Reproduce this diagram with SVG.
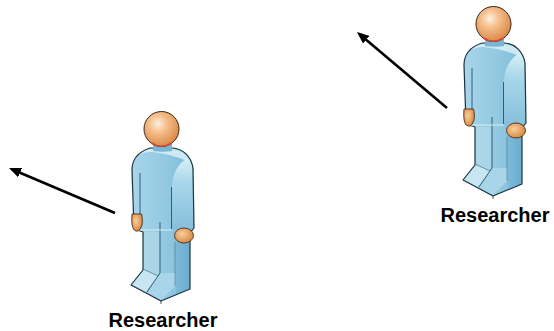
<svg xmlns="http://www.w3.org/2000/svg" xmlns:xlink="http://www.w3.org/1999/xlink" width="554" height="331" viewBox="0 0 554 331">
<style>
.ln{stroke:#000;stroke-width:2.6;fill:none}
.lbl{font-family:"Liberation Sans",Arial,sans-serif;font-weight:700;font-size:20px;fill:#000;text-anchor:middle}
.out{stroke:#1d3340;stroke-width:1.2;stroke-linejoin:round}
.inner{stroke:#2f5f7c;stroke-width:1;fill:none}
.skin{stroke:#4a3018;stroke-width:0.9}
</style>
<defs>
<marker id="ah" viewBox="0 0 12 10" refX="9" refY="5" markerWidth="12" markerHeight="10" markerUnits="userSpaceOnUse" orient="auto">
<path d="M0,0 L12,5 L0,10 Z" fill="#000"/>
</marker>
<linearGradient id="front" x1="0" y1="0" x2="1" y2="0">
<stop offset="0" stop-color="#a9d6ea"/>
<stop offset="0.6" stop-color="#90c7e0"/>
<stop offset="1" stop-color="#7bbad8"/>
</linearGradient>
<linearGradient id="arm" x1="0" y1="0" x2="0" y2="1">
<stop offset="0" stop-color="#d8f0f6"/>
<stop offset="0.35" stop-color="#a8d6ea"/>
<stop offset="1" stop-color="#86bfdb"/>
</linearGradient>
<linearGradient id="side" x1="0" y1="0" x2="1" y2="0">
<stop offset="0" stop-color="#7fbbd8"/>
<stop offset="1" stop-color="#6badcf"/>
</linearGradient>
<radialGradient id="headG" cx="0.4" cy="0.35" r="0.7">
<stop offset="0" stop-color="#fdf0e2"/>
<stop offset="0.35" stop-color="#f6c08e"/>
<stop offset="1" stop-color="#d7843e"/>
</radialGradient>
<radialGradient id="handG" cx="0.4" cy="0.4" r="0.7">
<stop offset="0" stop-color="#f9cf9e"/>
<stop offset="1" stop-color="#d47f36"/>
</radialGradient>
<g id="person">
<path fill="url(#front)" d="M150,148 L173,148 C183,149 191,156 193,168 L194,228 L190,233 L190,289 L161,301 L146,293 L131,285 L143,270 L143,232 L134,229 L132,170 C132,160 138,152 150,148 Z"/>
<path fill="#d9f0f7" opacity="0.85" d="M150,149 L173,149 C182,150 189,156 191,163 C182,158 168,154 152,152 C145,152 140,154 136,157 C139,153 144,150 150,149 Z"/>
<path fill="url(#arm)" d="M172,230 L172,188 C172,174 178,163 188,158 C191,161 192,164 192.5,168 L193.5,228 Z"/>
<path fill="url(#side)" d="M175,240 L189.5,240 L189.5,289 L176,294 Z"/>
<path fill="#b9deee" d="M143.5,232 L159.5,232 L159.5,273 L146,292 L132,285 L143.5,270 Z" opacity="0.5"/>
<path fill="#c7e6f2" d="M143,269 L131.5,284 L145.5,292 L158,276 Z"/>
<path fill="#a9d5e9" d="M160,273 L147,292 L161,300 L175,286 L175,273 Z"/>
<path class="out" fill="none" d="M150,148 L173,148 C183,149 191,156 193,168 L194,228 L190,233 L190,289 L161,301 L146,293 L131,285 L143,270 L143,232 L134,229 L132,170 C132,160 138,152 150,148 Z"/>
<path class="inner" d="M140,173 L140,215"/>
<path class="inner" d="M171.5,187 L171.5,229"/>
<path class="inner" d="M160,222 L160,273 L147,292"/>
<path class="inner" d="M143,269 L158,276" opacity="0.6"/>
<path class="inner" d="M175,286 L175,242" opacity="0.5"/>
<path d="M134,230 L172,230" stroke="#d6edf5" stroke-width="1" fill="none"/>
<path d="M161,301 L161,304" stroke="#1d3340" stroke-width="0.8"/>
<path d="M153,144 L172,144 L172,151 C166,152 159,152 153,151 Z" fill="#78b6d4"/>
<circle cx="161.5" cy="129" r="17.5" fill="url(#headG)" stroke="#3a2614" stroke-width="1"/>
<path d="M151.5,143 Q161.5,149.5 171.5,143" stroke="#d9483a" stroke-width="1.6" fill="none"/>
<path class="skin" fill="url(#handG)" d="M132,214 L141.5,214 C143,220 143,228 138,231 C133,232 131,226 132,214 Z"/>
<ellipse class="skin" fill="url(#handG)" cx="184" cy="235.5" rx="9.5" ry="7.5"/>
</g>
</defs>
<g id="connectors">
<path class="ln" marker-end="url(#ah)" d="M115,213 L11.8,169.2"/>
<path class="ln" marker-end="url(#ah)" d="M447,108 L359.3,33.9"/>
</g>
<g id="researcher1">
<use xlink:href="#person" href="#person"/>
<text class="lbl" x="163" y="327">Researcher</text>
</g>
<g id="researcher2">
<use xlink:href="#person" href="#person" transform="translate(332,-105)"/>
<text class="lbl" x="495" y="222">Researcher</text>
</g>
</svg>
